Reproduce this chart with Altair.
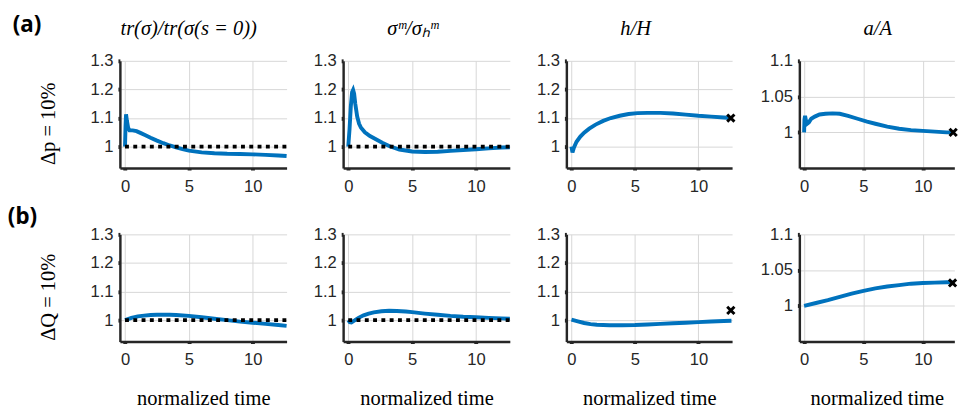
import altair as alt
import pandas as pd

# ------------------------------------------------------------------ data
# row (a): Δp = 10%
a_tr_t = [0, 0.04, 0.08, 0.15, 0.25, 0.35, 0.6, 0.9, 1.2, 1.6, 2.0, 2.5, 3.0, 3.5, 4.0, 4.5, 5.0, 6.0, 7.0, 8.0, 9.0, 10.0, 11.0, 12.0, 12.65]
a_tr_v = [1.0, 1.07, 1.113, 1.09, 1.065, 1.057, 1.057, 1.054, 1.048, 1.04, 1.031, 1.021, 1.012, 1.004, 0.997, 0.991, 0.986, 0.98, 0.977, 0.975, 0.974, 0.973, 0.971, 0.969, 0.967]

a_sm_t = [0, 0.1, 0.2, 0.3, 0.38, 0.46, 0.55, 0.7, 0.85, 1.0, 1.3, 1.7, 2.2, 2.7, 3.2, 4.0, 5.0, 6.0, 7.0, 8.0, 9.0, 10.0, 11.0, 12.0, 12.65]
a_sm_v = [1.0, 1.06, 1.14, 1.19, 1.198, 1.185, 1.15, 1.105, 1.08, 1.066, 1.05, 1.037, 1.025, 1.013, 1.002, 0.99, 0.983, 0.981, 0.982, 0.985, 0.988, 0.991, 0.994, 0.997, 0.998]

a_h_t = [0, 0.08, 0.2, 0.4, 0.7, 1.0, 1.4, 1.9, 2.5, 3.1, 3.8, 4.5, 5.2, 6.0, 7.0, 8.0, 9.0, 10.0, 11.0, 12.0, 12.5]
a_h_v = [1.0, 0.98, 0.997, 1.017, 1.035, 1.049, 1.063, 1.077, 1.09, 1.1, 1.108, 1.114, 1.117, 1.118, 1.118, 1.116, 1.112, 1.108, 1.105, 1.102, 1.1]
a_h_mark_t = [12.55]
a_h_mark_v = [1.1]

a_a_t = [0, 0.03, 0.08, 0.15, 0.25, 0.4, 0.6, 0.9, 1.3, 1.8, 2.4, 3.0, 3.7, 4.5, 5.3, 6.0, 7.0, 8.0, 9.0, 10.0, 11.0, 12.0, 12.5]
a_a_v = [1.0, 1.018, 1.023, 1.017, 1.012, 1.014, 1.019, 1.022, 1.025, 1.026, 1.0265, 1.026, 1.023, 1.019, 1.015, 1.012, 1.008, 1.005, 1.003, 1.002, 1.001, 1.0, 1.0]
a_a_mark_t = [12.55]
a_a_mark_v = [1.0]

# row (b): ΔQ = 10%
b_tr_t = [0, 0.5, 1.0, 1.5, 2.0, 2.5, 3.0, 3.5, 4.0, 5.0, 6.0, 7.0, 8.0, 9.0, 10.0, 11.0, 12.0, 12.65]
b_tr_v = [1.0, 1.008, 1.013, 1.016, 1.018, 1.019, 1.019, 1.019, 1.018, 1.015, 1.01, 1.005, 1.0, 0.995, 0.991, 0.987, 0.983, 0.98]

b_sm_t = [0, 0.12, 0.25, 0.5, 0.8, 1.2, 1.6, 2.0, 2.6, 3.2, 3.8, 4.5, 5.0, 6.0, 7.0, 8.0, 9.0, 10.0, 11.0, 12.0, 12.65]
b_sm_v = [1.0, 0.993, 0.992, 0.999, 1.008, 1.017, 1.023, 1.027, 1.031, 1.033, 1.032, 1.03, 1.028, 1.023, 1.019, 1.015, 1.012, 1.01, 1.008, 1.006, 1.005]

b_h_t = [0, 0.5, 1.0, 1.5, 2.0, 2.5, 3.0, 3.5, 4.0, 5.0, 6.0, 7.0, 8.0, 9.0, 10.0, 11.0, 12.0, 12.6]
b_h_v = [1.002, 0.996, 0.99, 0.986, 0.984, 0.983, 0.982, 0.982, 0.982, 0.983, 0.985, 0.987, 0.989, 0.991, 0.993, 0.995, 0.997, 0.998]
b_h_mark_t = [12.55]
b_h_mark_v = [1.034]

b_a_t = [0, 1, 2, 3, 4, 5, 6, 7, 8, 9, 10, 11, 12, 12.5]
b_a_v = [1.0, 1.004, 1.008, 1.0125, 1.017, 1.021, 1.0245, 1.027, 1.029, 1.031, 1.032, 1.0325, 1.033, 1.033]
b_a_mark_t = [12.5]
b_a_mark_v = [1.032]

# reference level (dotted line)
ref_t = [0, 12.65]
ref_v = [1, 1]

panel_titles = ["tr(σ)/tr(σ(s = 0))", "σᵐ/σₕᵐ", "h/H", "a/A"]
row_titles = ["Δp = 10%", "ΔQ = 10%"]
row_letters = ["(a)", "(b)"]
x_title = "normalized time"
x_ticks = [0, 5, 10]
y_ticks_main = [1, 1.1, 1.2, 1.3]
y_ticks_area = [1, 1.05, 1.1]
x_domain = [-0.4, 12.65]
y_domain_main = [0.925, 1.3]
y_domain_area = [0.95, 1.1]

# ------------------------------------------------------------------ style
BLUE = "#0072BD"
AX = "#262626"
SERIF = "Liberation Serif"
SANS = "Liberation Sans"
XMARK = "M-1,-1L1,1M-1,1L1,-1"
LABEL_EXPR = "'' + datum.value"


def panel(t, v, ydom, yvals, width, title=None, tdx=0, show_ref=False,
          mark=None, ytitle=None, xtitle=None, letter=None, letter_xy=None):
    df = pd.DataFrame({"t": t, "v": v})
    xs = alt.Scale(domain=x_domain, nice=False, zero=False)
    ys = alt.Scale(domain=ydom, nice=False, zero=False)
    common = dict(labelFont=SANS, labelFontSize=17, labelColor=AX,
                  labelOverlap=False, labelExpr=LABEL_EXPR, tickCount=20,
                  domainColor=AX, domainWidth=2.5, tickColor=AX, tickSize=2,
                  tickWidth=4, gridColor="#d6d6d6", gridWidth=1)
    xkw = dict(values=x_ticks, labelPadding=9, **common)
    if xtitle:
        xkw.update(title=xtitle, titleFont=SERIF, titleFontSize=21,
                   titleFontWeight="normal", titleColor="black", titlePadding=21)
    else:
        xkw.update(title="")
    ykw = dict(values=yvals, labelPadding=5, **common)
    if ytitle:
        ykw.update(title=ytitle, titleFont=SERIF, titleFontSize=21,
                   titleFontWeight="normal", titleColor="black",
                   titlePadding=32, titleY=64)
    else:
        ykw.update(title="")
    line = alt.Chart(df).mark_line(color=BLUE, strokeWidth=4).encode(
        x=alt.X("t:Q", scale=xs, axis=alt.Axis(**xkw)),
        y=alt.Y("v:Q", scale=ys, axis=alt.Axis(**ykw)),
    )
    layers = [line]
    if show_ref:
        rdf = pd.DataFrame({"t": ref_t, "v": ref_v})
        layers.append(alt.Chart(rdf).mark_line(
            color="black", strokeWidth=4, strokeDash=[4, 4.5], strokeCap="butt"
        ).encode(x="t:Q", y="v:Q"))
    if mark is not None:
        mdf = pd.DataFrame({"t": mark[0], "v": mark[1]})
        layers.append(alt.Chart(mdf).mark_point(
            shape=XMARK, size=55, filled=False, stroke="black", strokeWidth=3,
            opacity=1
        ).encode(x="t:Q", y="v:Q"))
    if title:
        tdf = pd.DataFrame({"lab": [title]})
        layers.append(alt.Chart(tdf).mark_text(
            align="center", baseline="middle", font=SERIF, fontStyle="italic",
            fontSize=21, color="black", x=width / 2 + tdx, y=-33
        ).encode(text="lab:N"))
    if letter:
        ldf = pd.DataFrame({"lab": [letter]})
        layers.append(alt.Chart(ldf).mark_text(
            align="left", baseline="middle", font="Noto Sans", fontWeight="bold",
            fontSize=23, color="black", x=letter_xy[0], y=letter_xy[1]
        ).encode(text="lab:N"))
    return alt.layer(*layers).properties(width=width, height=110)


def row(i, data, xtitle):
    (tr, sm, hh, aa) = data
    top = i == 0
    p1 = panel(tr[0], tr[1], y_domain_main, y_ticks_main, 171,
               title=panel_titles[0] if top else None, tdx=-15, show_ref=True,
               ytitle=row_titles[i], xtitle=xtitle, letter=row_letters[i],
               letter_xy=(-110, -37) if top else (-115, -18))
    p2 = panel(sm[0], sm[1], y_domain_main, y_ticks_main, 171,
               title=panel_titles[1] if top else None, tdx=-14, show_ref=True,
               xtitle=xtitle)
    p3 = panel(hh[0], hh[1], y_domain_main, y_ticks_main, 170,
               title=panel_titles[2] if top else None, tdx=-14,
               mark=(hh[2], hh[3]), xtitle=xtitle)
    p4 = panel(aa[0], aa[1], y_domain_area, y_ticks_area, 159,
               title=panel_titles[3] if top else None, tdx=1,
               mark=(aa[2], aa[3]), xtitle=xtitle)
    return alt.hconcat(p1, p2, p3, p4, spacing=19)


row_a = row(0, ((a_tr_t, a_tr_v), (a_sm_t, a_sm_v),
                (a_h_t, a_h_v, a_h_mark_t, a_h_mark_v),
                (a_a_t, a_a_v, a_a_mark_t, a_a_mark_v)), None)
row_b = row(1, ((b_tr_t, b_tr_v), (b_sm_t, b_sm_v),
                (b_h_t, b_h_v, b_h_mark_t, b_h_mark_v),
                (b_a_t, b_a_v, b_a_mark_t, b_a_mark_v)), x_title)

chart = alt.vconcat(row_a, row_b, spacing=12).properties(
    padding={"left": 8, "top": 9, "right": 5, "bottom": 5},
    background="white",
).configure_view(strokeWidth=0)

chart.save("out.html", embed_options={"renderer": "svg", "actions": False})
